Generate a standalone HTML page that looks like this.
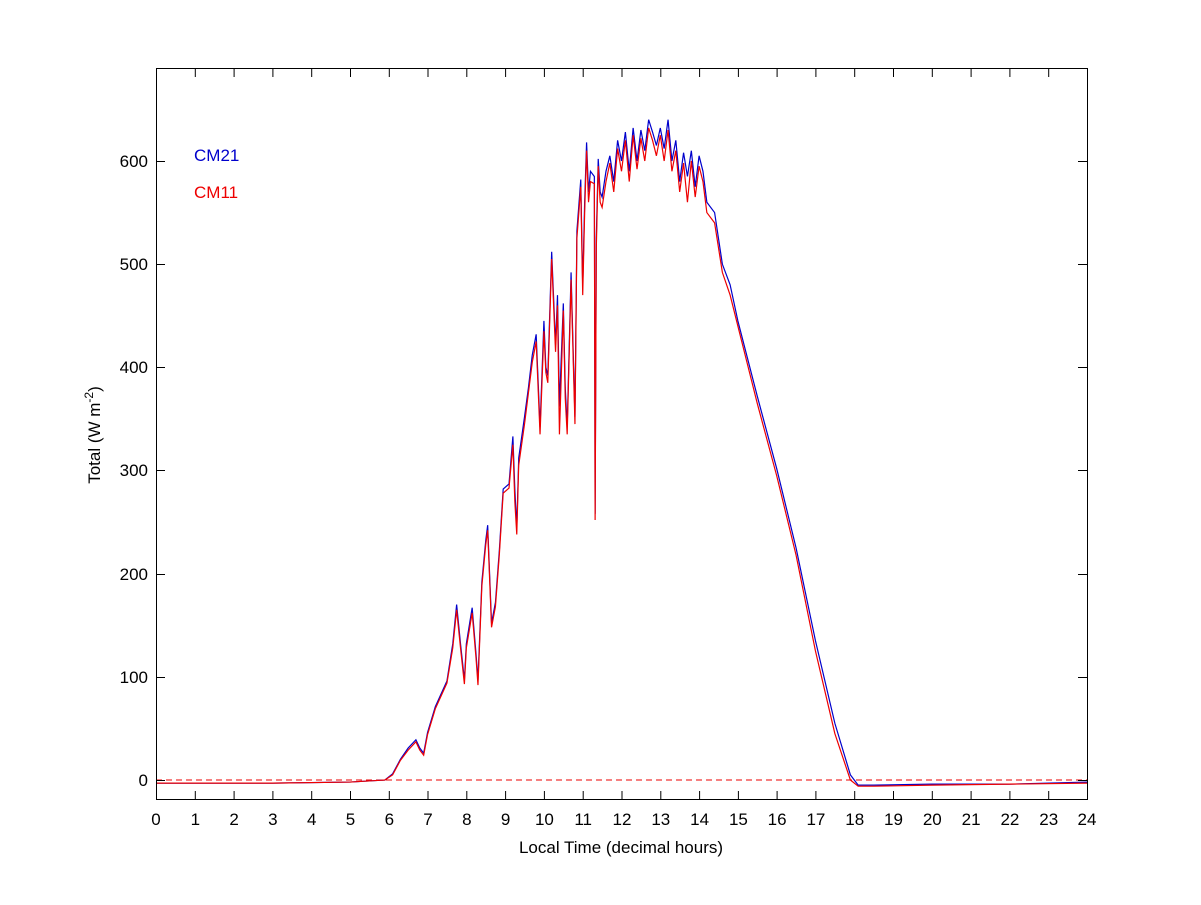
<!DOCTYPE html>
<html><head><meta charset="utf-8"><style>
body{margin:0;background:#fff;}
svg text{font-family:"Liberation Sans",Arial,sans-serif;font-size:17px;fill:#000;}
</style></head><body>
<svg width="1201" height="900" viewBox="0 0 1201 900" xmlns="http://www.w3.org/2000/svg">
<rect width="1201" height="900" fill="#fff"/>
<g transform="translate(156,780) scale(38.7917,-1.0317)" fill="none">
<line x1="0" y1="0" x2="24" y2="0" stroke="#e00" stroke-width="1" stroke-dasharray="6,4" vector-effect="non-scaling-stroke"/>
<polyline vector-effect="non-scaling-stroke" stroke="#00c" stroke-width="1.2" points="0,-3 3,-3 5,-2 5.9,0 6.1,6 6.3,20 6.5,31 6.7,39 6.8,31 6.9,26 7,46 7.2,71 7.5,96 7.65,132 7.75,170 7.85,132 7.95,97 8,132 8.15,167 8.25,122 8.3,97 8.4,192 8.5,232 8.55,247 8.65,152 8.75,172 8.85,222 8.95,282 9.1,287 9.2,333 9.25,282 9.3,244 9.35,312 9.5,352 9.6,380 9.7,412 9.8,432 9.9,342 10,445 10.05,400 10.1,392 10.2,512 10.3,422 10.35,470 10.4,362 10.5,462 10.55,380 10.6,342 10.7,492 10.8,352 10.85,532 10.95,582 11,478 11.05,560 11.1,618 11.15,570 11.2,590 11.3,585 11.32,258 11.35,525 11.4,602 11.45,570 11.5,565 11.6,590 11.7,605 11.8,580 11.9,620 12,600 12.1,628 12.2,590 12.3,632 12.4,600 12.5,630 12.6,610 12.7,640 12.8,628 12.9,615 13,632 13.1,612 13.2,640 13.3,600 13.4,620 13.5,580 13.6,608 13.7,585 13.8,610 13.9,575 14,605 14.1,590 14.2,560 14.4,550 14.6,500 14.8,480 15,445 15.5,372 16,302 16.5,225 17,135 17.5,55 17.9,5 18.1,-5 18.5,-5 20,-4 22,-4 24,-2"/>
<polyline vector-effect="non-scaling-stroke" stroke="#e00" stroke-width="1.2" points="0,-3 3,-3 5,-2 5.9,0 6.1,5 6.3,19 6.5,29 6.7,37 6.8,29 6.9,24 7,44 7.2,69 7.5,94 7.65,128 7.75,165 7.85,128 7.95,93 8,128 8.15,162 8.25,118 8.3,92 8.4,188 8.5,228 8.55,242 8.65,148 8.75,168 8.85,218 8.95,278 9.1,283 9.2,325 9.25,270 9.3,238 9.35,305 9.5,345 9.6,375 9.7,405 9.8,425 9.9,335 10,435 10.05,395 10.1,385 10.2,505 10.3,415 10.35,460 10.4,335 10.5,455 10.55,370 10.6,335 10.7,485 10.8,345 10.85,525 10.95,575 11,470 11.05,550 11.1,610 11.15,560 11.2,580 11.3,578 11.32,252 11.35,515 11.4,595 11.45,560 11.5,555 11.6,580 11.7,598 11.8,570 11.9,612 12,590 12.1,620 12.2,580 12.3,625 12.4,592 12.5,622 12.6,600 12.7,632 12.8,620 12.9,605 13,625 13.1,600 13.2,630 13.3,590 13.4,610 13.5,570 13.6,598 13.7,560 13.8,600 13.9,565 14,595 14.1,580 14.2,550 14.4,540 14.6,492 14.8,470 15,440 15.5,365 16,295 16.5,218 17,125 17.5,45 17.9,0 18.1,-6 18.5,-6 20,-5 22,-4 24,-3"/>
</g>
<rect x="156.5" y="68.5" width="931" height="731" fill="none" stroke="#000" stroke-width="1"/>
<g stroke="#000" stroke-width="1">
<path d="M156,161.5h9M1087,161.5h-9M156,264.5h9M1087,264.5h-9M156,367.5h9M1087,367.5h-9M156,470.5h9M1087,470.5h-9M156,574.5h9M1087,574.5h-9M156,677.5h9M1087,677.5h-9M156,780.5h9M1087,780.5h-9"/>
<path d="M195.3,800v-9M234.1,800v-9M272.9,800v-9M311.7,800v-9M350.5,800v-9M389.3,800v-9M428.0,800v-9M466.8,800v-9M505.6,800v-9M544.4,800v-9M583.2,800v-9M622.0,800v-9M660.8,800v-9M699.6,800v-9M738.4,800v-9M777.1,800v-9M815.9,800v-9M854.7,800v-9M893.5,800v-9M932.3,800v-9M971.1,800v-9M1009.9,800v-9M1048.7,800v-9 M195.3,68v9M234.1,68v9M272.9,68v9M311.7,68v9M350.5,68v9M389.3,68v9M428.0,68v9M466.8,68v9M505.6,68v9M544.4,68v9M583.2,68v9M622.0,68v9M660.8,68v9M699.6,68v9M738.4,68v9M777.1,68v9M815.9,68v9M854.7,68v9M893.5,68v9M932.3,68v9M971.1,68v9M1009.9,68v9M1048.7,68v9"/>
</g>
<g text-anchor="end">
<text x="148" y="167">600</text><text x="148" y="270">500</text><text x="148" y="373">400</text><text x="148" y="476">300</text><text x="148" y="580">200</text><text x="148" y="683">100</text><text x="148" y="786">0</text>
</g>
<g text-anchor="middle">
<text x="156" y="825">0</text><text x="195.3" y="825">1</text><text x="234.1" y="825">2</text><text x="272.9" y="825">3</text><text x="311.7" y="825">4</text><text x="350.5" y="825">5</text><text x="389.3" y="825">6</text><text x="428" y="825">7</text><text x="466.8" y="825">8</text><text x="505.6" y="825">9</text><text x="544.4" y="825">10</text><text x="583.2" y="825">11</text><text x="622" y="825">12</text><text x="660.8" y="825">13</text><text x="699.6" y="825">14</text><text x="738.4" y="825">15</text><text x="777.1" y="825">16</text><text x="815.9" y="825">17</text><text x="854.7" y="825">18</text><text x="893.5" y="825">19</text><text x="932.3" y="825">20</text><text x="971.1" y="825">21</text><text x="1009.9" y="825">22</text><text x="1048.7" y="825">23</text><text x="1087" y="825">24</text>
<text x="621" y="853">Local Time (decimal hours)</text>
<text transform="translate(100,435) rotate(-90)">Total (W m<tspan font-size="12" dy="-7">-2</tspan><tspan dy="7">)</tspan></text>
</g>
<text x="194" y="161" style="fill:#00c">CM21</text>
<text x="194" y="198" style="fill:#e00">CM11</text>
</svg>
</body></html>
